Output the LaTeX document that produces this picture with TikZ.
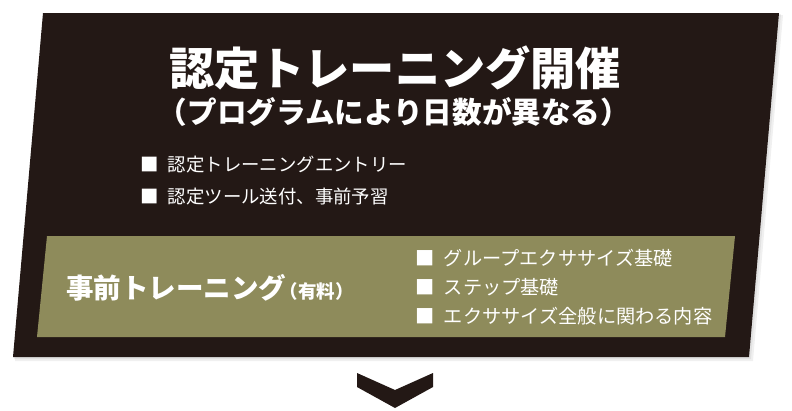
\documentclass[tikz,border=0pt]{standalone}
\usepackage{fontspec}
\newfontfamily\cjk{Noto Sans CJK JP}
\usetikzlibrary{positioning}
\definecolor{panelbrown}{HTML}{231815}
\definecolor{bandolive}{HTML}{8E8B5B}

\begin{document}
\begin{tikzpicture}[x=1pt,y=-1pt,
  txt/.style={text=white,inner sep=0pt,font=\cjk},
  item/.style={txt,anchor=west,font=\cjk\fontsize{18.4}{18.4}\selectfont},
  bandItem/.style={item,font=\cjk\fontsize{19.2}{19.2}\selectfont}]
\useasboundingbox (0,0) rectangle (792,410);
% panel and band
\fill[black,opacity=.06] (45,15) -- (783,15) -- (753,361) -- (15,361) -- cycle;
\fill[black,opacity=.06] (44,14) -- (781,14) -- (751,359) -- (14,359) -- cycle;
\fill[panelbrown] (43,13) -- (779,13) -- (749,357) -- (13,357) -- cycle;
\fill[bandolive] (47,236) -- (735,236) -- (725,337) -- (37,337) -- cycle;
% headings
\node[txt,font=\cjk\bfseries\fontsize{45.2}{45.2}\selectfont] (title) at (395,68) {認定トレーニング開催};
\node[txt,font=\cjk\bfseries\fontsize{29.6}{29.6}\selectfont] (sub) at (394,112) {（プログラムにより日数が異なる）};
\node[item] (entry) at (140,165) {■\hspace{.5em}認定トレーニングエントリー};
\node[item,below=32pt of entry.west,anchor=west] (tool) {■\hspace{.5em}認定ツール送付、事前予習};
% pre-training band
\node[txt,anchor=west,font=\cjk\bfseries\fontsize{27.5}{27.5}\selectfont] (pre) at (66,288)
  {事前トレーニング{\fontsize{18.5}{18.5}\selectfont\kern-.35em（有料）}};
\node[bandItem] (group) at (415,258) {■\hspace{.5em}グループエクササイズ基礎};
\node[bandItem,below=29pt of group.west,anchor=west] (stepbasic) {■\hspace{.5em}ステップ基礎};
\node[bandItem,below=29pt of stepbasic.west,anchor=west] (general) {■\hspace{.5em}エクササイズ全般に関わる内容};
% chevron
\fill[panelbrown] (357,373) -- (395,390) -- (433,373) -- (433,387) -- (395,408) -- (357,387) -- cycle;
\end{tikzpicture}
\end{document}
